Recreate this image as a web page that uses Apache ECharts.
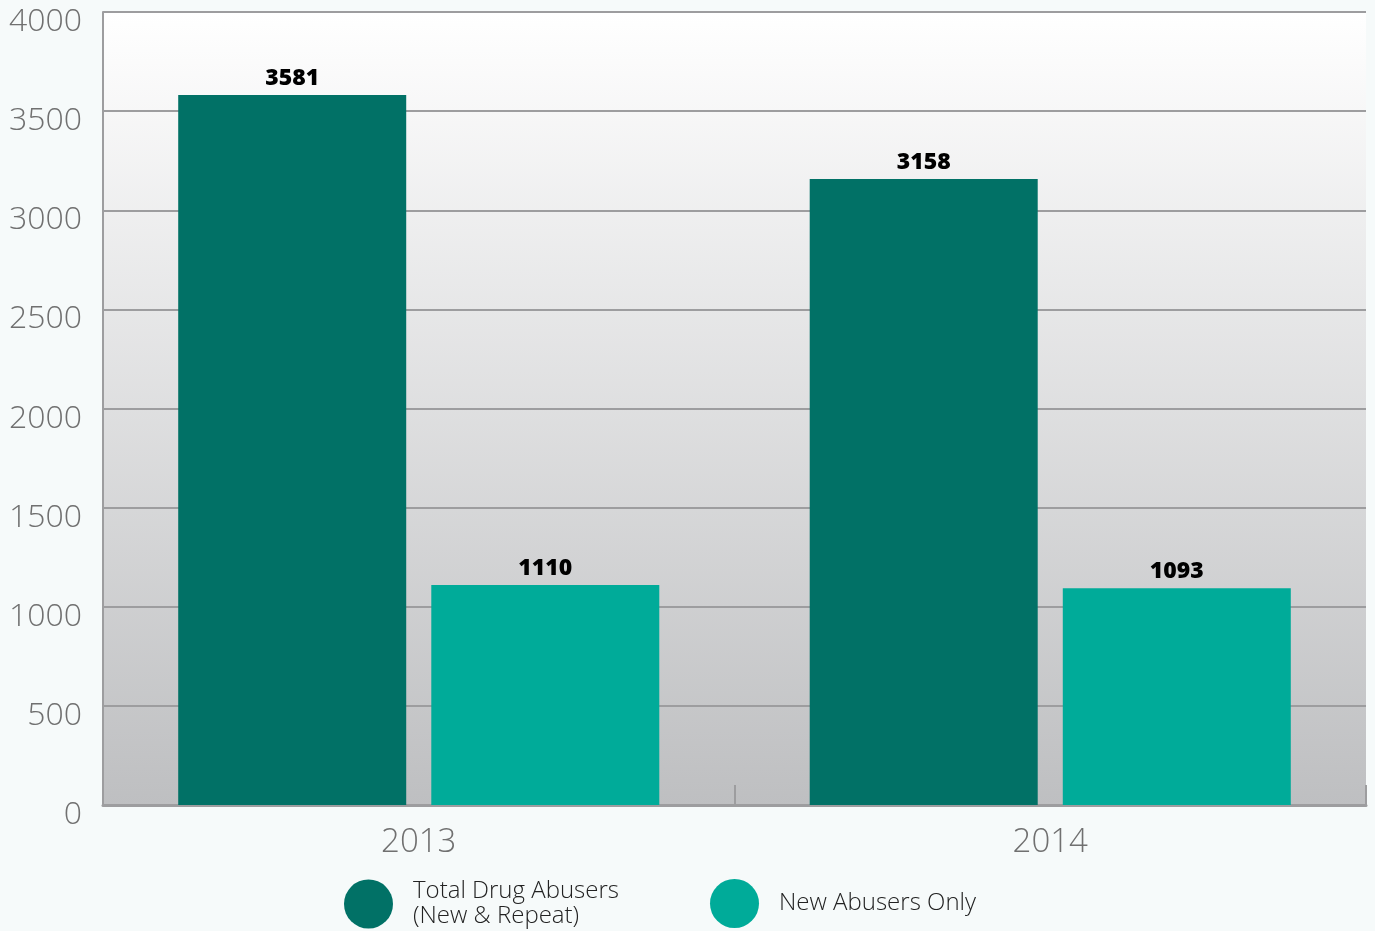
<!DOCTYPE html>
<html>
<head>
<meta charset="utf-8">
<script src="https://cdn.jsdelivr.net/npm/echarts@6/dist/echarts.min.js"></script>
<style>
  html, body { margin: 0; padding: 0; background: #f6fafa; }
  #main { width: 1375px; height: 931px; }
</style>
</head>
<body>
<div id="main"></div>
<script>
// data
var years = ['2013', '2014'];
var totalAbusers = [3581, 3158];
var newAbusers = [1110, 1093];
var seriesNames = ['Total Drug Abusers\n(New & Repeat)', 'New Abusers Only'];

var chart = echarts.init(document.getElementById('main'));

var labelStyle = {
  show: true,
  position: 'top',
  distance: 5,
  color: '#000',
  fontFamily: 'Open Sans',
  fontWeight: 800,
  fontSize: 23
};

var legendText = {
  color: '#222',
  fontFamily: 'Open Sans',
  fontWeight: 300,
  fontSize: 24,
  lineHeight: 25,
  padding: [0, 0, 0, 15]
};

chart.setOption({
  backgroundColor: '#f6fafa',
  animation: false,
  grid: {
    left: 103,
    right: 9,
    top: 12,
    bottom: 126,
    outerBoundsMode: 'none',
    show: true,
    borderWidth: 0,
    backgroundColor: new echarts.graphic.LinearGradient(0, 0, 0, 1, [
      { offset: 0, color: '#ffffff' },
      { offset: 1, color: '#bebfc1' }
    ])
  },
  legend: [
    {
      data: [seriesNames[0]],
      left: 344,
      top: 879,
      padding: 0,
      icon: 'circle',
      itemWidth: 49,
      itemHeight: 49,
      textStyle: legendText
    },
    {
      data: [seriesNames[1]],
      left: 710,
      top: 879,
      padding: 0,
      icon: 'circle',
      itemWidth: 49,
      itemHeight: 49,
      textStyle: legendText
    }
  ],
  xAxis: {
    type: 'category',
    data: years,
    axisLine: { lineStyle: { color: '#9d9d9f', width: 3 } },
    axisTick: { show: true, inside: true, length: 20, lineStyle: { color: '#9d9d9f', width: 2 } },
    axisLabel: {
      color: '#707070',
      fontFamily: 'Open Sans',
      fontWeight: 300,
      fontSize: 33,
      margin: 21
    }
  },
  yAxis: {
    type: 'value',
    min: 0,
    max: 4000,
    interval: 500,
    axisLine: { show: true, lineStyle: { color: '#9d9d9f', width: 2 } },
    axisTick: { show: false },
    splitLine: { lineStyle: { color: '#9d9d9f', width: 2 } },
    axisLabel: {
      color: '#707070',
      fontFamily: 'Open Sans',
      fontWeight: 300,
      fontSize: 32,
      margin: 21,
      verticalAlign: 'top',
      lineHeight: 20,
      formatter: function (v) { return String(v); }
    }
  },
  series: [
    {
      name: seriesNames[0],
      type: 'bar',
      data: totalAbusers,
      barWidth: 228,
      barGap: '11%',
      itemStyle: { color: '#017166' },
      label: labelStyle
    },
    {
      name: seriesNames[1],
      type: 'bar',
      data: newAbusers,
      barWidth: 228,
      barGap: '11%',
      itemStyle: { color: '#00ab99' },
      label: labelStyle
    }
  ]
});
</script>
</body>
</html>
